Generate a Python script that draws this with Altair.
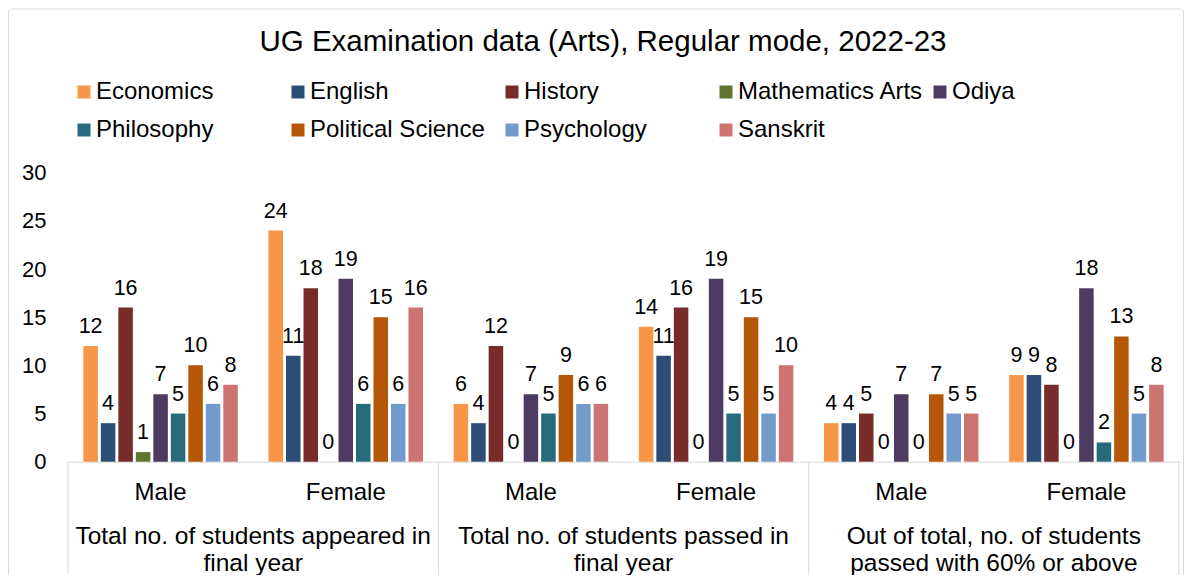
import altair as alt
import pandas as pd

title_text = "UG Examination data (Arts), Regular mode, 2022-23"

subjects = ["Economics", "English", "History", "Mathematics Arts", "Odiya",
            "Philosophy", "Political Science", "Psychology", "Sanskrit"]
colors = ["#F79646", "#2C4D75", "#772C2A", "#5F7530", "#4D3B62",
          "#276A7C", "#B65708", "#729ACA", "#CD7371"]

groups = ["Appeared|Male", "Appeared|Female", "Passed|Male", "Passed|Female",
          "Sixty|Male", "Sixty|Female"]
section_first = ["Appeared|Male", "Passed|Male", "Sixty|Male"]
section_labels = ["Total no. of students appeared in\nfinal year",
                  "Total no. of students passed in\nfinal year",
                  "Out of total, no. of students\npassed with 60% or above"]

# values per subject across the six groups
economics = [12, 24, 6, 14, 4, 9]
english = [4, 11, 4, 11, 4, 9]
history = [16, 18, 12, 16, 5, 8]
mathematics_arts = [1, 0, 0, 0, 0, 0]
odiya = [7, 19, 7, 19, 7, 18]
philosophy = [5, 6, 5, 5, 0, 2]
political_science = [10, 15, 9, 15, 7, 13]
psychology = [6, 6, 6, 5, 5, 5]
sanskrit = [8, 16, 6, 10, 5, 8]
series = [economics, english, history, mathematics_arts, odiya,
          philosophy, political_science, psychology, sanskrit]

y_ticks = [0, 5, 10, 15, 20, 25, 30]

rows = []
for s, vals in zip(subjects, series):
    for g, v in zip(groups, vals):
        rows.append({"grp": g, "subject": s, "value": v})
df = pd.DataFrame(rows)

W, H = 1111, 289
FONT = "Liberation Sans"
GRID = "#D9D9D9"


def xenc(band=None):
    kw = dict(
        sort=groups,
        scale=alt.Scale(paddingInner=0, paddingOuter=0),
        axis=alt.Axis(labelExpr="split(datum.label, '|')[1]", labelFontSize=24,
                      labelFont=FONT, labelColor="#000000", labelPadding=19,
                      labelAngle=0, ticks=False, tickSize=0, domainColor=GRID,
                      domainWidth=1, grid=False),
        title=None,
    )
    if band is not None:
        kw["bandPosition"] = band
    return alt.X("grp:N", **kw)


yenc = alt.Y("value:Q", scale=alt.Scale(domain=[0, 30], nice=False),
             axis=alt.Axis(values=y_ticks, labelFontSize=22, labelFont=FONT,
                           labelColor="#000000", labelPadding=22, ticks=False,
                           tickSize=0, domain=False, grid=False),
             title=None)

xoff = alt.XOffset("subject:N", sort=subjects,
                   scale=alt.Scale(paddingInner=0.17, paddingOuter=0.877))

color = alt.Color("subject:N", sort=subjects, title=None,
                  scale=alt.Scale(domain=subjects, range=colors),
                  legend=alt.Legend(orient="none", legendX=4, legendY=-92.7,
                                    direction="horizontal", columns=5,
                                    gridAlign="all", columnPadding=4,
                                    rowPadding=14, symbolType="square",
                                    symbolSize=169, symbolStrokeWidth=0,
                                    labelFontSize=24, labelFont=FONT,
                                    labelColor="#000000", labelLimit=400,
                                    labelOffset=0, padding=0))

base = alt.Chart(df)

border = alt.Chart(pd.DataFrame({"k": [0]})).mark_rect(
    filled=False, stroke=GRID, strokeWidth=1, cornerRadius=3
).encode(x=alt.value(-59.5), x2=alt.value(W + 4.5),
         y=alt.value(-163.7), y2=alt.value(H + 150))

bars = base.mark_bar().encode(x=xenc(), xOffset=xoff, y=yenc, color=color)

labels = base.mark_text(font=FONT, fontSize=21.5, color="#000000",
                        baseline="alphabetic", dy=-13).encode(
    x=xenc(), xOffset=xoff, y=yenc, text="value:Q")

sec_df = pd.DataFrame({"grp": section_first, "label": section_labels})
sec_text = alt.Chart(sec_df).mark_text(
    font=FONT, fontSize=24.5, color="#000000", lineBreak="\n", lineHeight=27,
    baseline="alphabetic", align="center"
).encode(x=xenc(1.0), y=alt.value(371), text="label:N")

sep_start = alt.Chart(sec_df).mark_rule(color=GRID, strokeWidth=1).encode(
    x=xenc(0.0), y=alt.value(H), y2=alt.value(H + 116))
sep_end = alt.Chart(pd.DataFrame({"grp": [groups[-1]]})).mark_rule(
    color=GRID, strokeWidth=1).encode(
    x=xenc(1.0), y=alt.value(H), y2=alt.value(H + 116))

title = alt.Chart(pd.DataFrame({"t": [title_text]})).mark_text(
    font=FONT, fontSize=29.5, color="#000000", align="center",
    baseline="alphabetic"
).encode(x=alt.value(535), y=alt.value(-122), text="t:N")

chart = alt.layer(border, bars, labels, sec_text, sep_start, sep_end, title).properties(
    width=W, height=H,
    autosize=alt.AutoSizeParams(type="none"),
    padding={"left": 60, "top": 164.7, "right": 5, "bottom": 113.3},
    background="white",
).configure_view(strokeWidth=0)

chart.save("out.html", embed_options={"renderer": "svg", "actions": False})
